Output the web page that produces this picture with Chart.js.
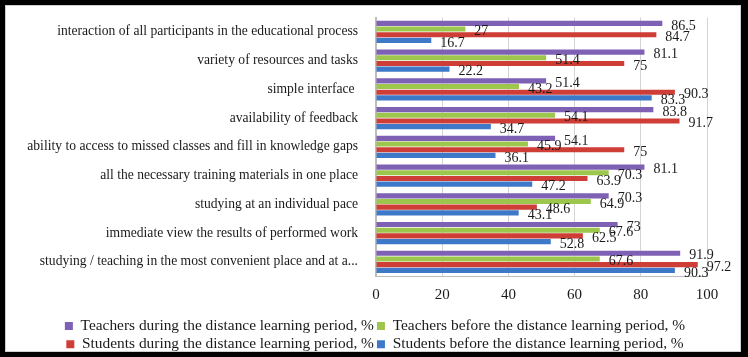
<!DOCTYPE html>
<html>
<head>
<meta charset="utf-8">
<script src="https://cdn.jsdelivr.net/npm/chart.js@4/dist/chart.umd.min.js"></script>
<style>
  html, body { margin:0; padding:0; background:#000; }
  body { width:748px; height:357px; position:relative; overflow:hidden; }
  #frame { position:absolute; left:5px; top:5px; width:734px; height:345px; background:#fff; border:1px solid #cfcfcf; overflow:hidden; }
  #wrap { position:absolute; left:0; top:0; width:734px; height:356px; }
</style>
</head>
<body>
<div id="frame"><div id="wrap"><canvas id="c"></canvas></div></div>
<script>
const categories = [
  "interaction of all participants in the educational process",
  "variety of resources and tasks",
  "simple interface ",
  "availability of feedback",
  "ability to access to missed classes and fill in knowledge gaps",
  "all the necessary training materials in one place",
  "studying at an individual pace",
  "immediate view the results of performed work",
  "studying / teaching in the most convenient place and at a..."
];
const seriesNames = [
  "Teachers during the distance learning period, %",
  "Teachers before the distance learning period, %",
  "Students during the distance learning period, %",
  "Students before the distance learning period, %"
];
const teachersDuring = [86.5, 81.1, 51.4, 83.8, 54.1, 81.1, 70.3, 73, 91.9];
const teachersBefore = [27, 51.4, 43.2, 54.1, 45.9, 70.3, 64.9, 67.6, 67.6];
const studentsDuring = [84.7, 75, 90.3, 91.7, 75, 63.9, 48.6, 62.5, 97.2];
const studentsBefore = [16.7, 22.2, 83.3, 34.7, 36.1, 47.2, 43.1, 52.8, 90.3];
const xTicks = [0, 20, 40, 60, 80, 100];

const colors = ["#7e60b4", "#9cc64c", "#cf3d37", "#3e79c9"];
const values = [teachersDuring, teachersBefore, studentsDuring, studentsBefore];

const serif = "'Liberation Serif', 'DejaVu Serif', serif";

const valueLabels = {
  id: 'valueLabels',
  afterDatasetsDraw(chart) {
    const ctx = chart.ctx;
    ctx.save();
    ctx.font = "14px " + serif;
    ctx.fillStyle = "#1a1a1a";
    ctx.textBaseline = "middle";
    ctx.textAlign = "left";
    chart.data.datasets.forEach((ds, di) => {
      const meta = chart.getDatasetMeta(di);
      meta.data.forEach((bar, i) => {
        ctx.fillText(String(ds.data[i]), bar.x + 9, bar.y + 2.5);
      });
    });
    ctx.restore();
  }
};

new Chart(document.getElementById('c'), {
  type: 'bar',
  data: {
    labels: categories,
    datasets: values.map((v, i) => ({
      label: seriesNames[i],
      data: v,
      backgroundColor: colors[i],
      borderWidth: 0,
      categoryPercentage: 0.79,
      barPercentage: 0.9
    }))
  },
  options: {
    indexAxis: 'y',
    responsive: true,
    maintainAspectRatio: false,
    animation: false,
    layout: { padding: { left: 4, right: 0, top: 11.5, bottom: 0 } },
    scales: {
      x: {
        min: 0, max: 100,
        afterBuildTicks(scale) { scale.ticks = xTicks.map(v => ({ value: v })); },
        afterFit(scale) { scale.height = 39; scale.paddingRight = 33; },
        grid: { color: "#d4d4d4", drawTicks: false },
        border: { color: "#bdbdbd" },
        ticks: { padding: 10, color: "#1a1a1a", font: { family: serif, size: 15 } }
      },
      y: {
        afterFit(scale) { scale.width = 366; scale.paddingTop = 0; scale.paddingBottom = 0; },
        grid: { display: false, drawTicks: false },
        border: { color: "#bdbdbd", width: 2 },
        ticks: { padding: 18, color: "#1a1a1a", font: { family: serif, size: 13.6 } }
      }
    },
    plugins: {
      legend: {
        position: 'bottom',
        labels: {
          boxWidth: 8, boxHeight: 8, padding: 3,
          color: "#1a1a1a",
          font: { family: serif, size: 15.4 }
        }
      },
      tooltip: { enabled: false }
    }
  },
  plugins: [valueLabels]
});
</script>
</body>
</html>
